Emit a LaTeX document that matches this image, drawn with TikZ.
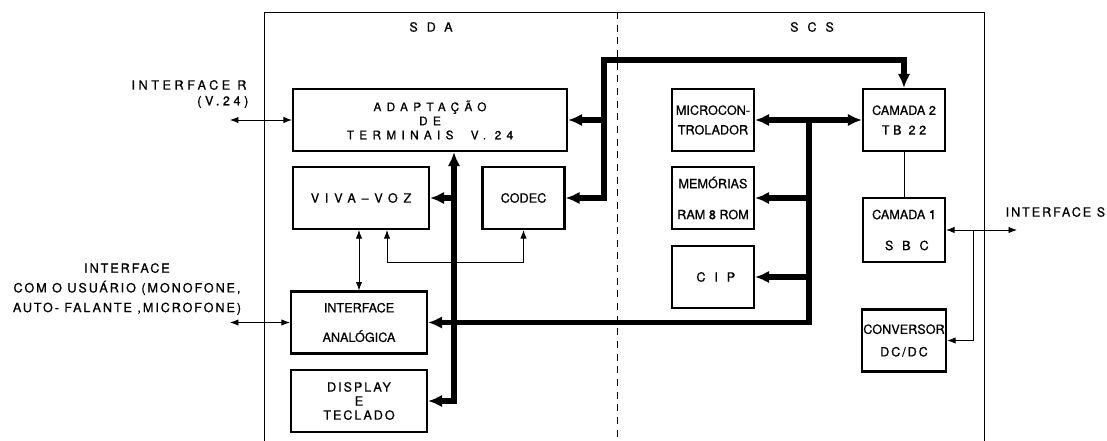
\documentclass[tikz,border=0pt]{standalone}
\usepackage{fontspec}
\setmainfont[FakeBold=0.8]{TeX Gyre Heros}
\newfontfamily\trackA[LetterSpace=15,FakeBold=0.8]{TeX Gyre Heros}
\newfontfamily\trackB[LetterSpace=28,FakeBold=0.8]{TeX Gyre Heros}
\newfontfamily\trackC[LetterSpace=45,FakeBold=0.8]{TeX Gyre Heros}
\newfontfamily\trackD[LetterSpace=70,FakeBold=0.8]{TeX Gyre Heros}
\newcommand\lettering{\fontsize{9}{11}\selectfont}
\newcommand\smalllettering{\fontsize{8.4}{10}\selectfont}
\usepackage{tikz}
\usetikzlibrary{arrows.meta,positioning}

\begin{document}
\begin{tikzpicture}[
    x=0.025cm, y=-0.025cm,
    every node/.style={font=\lettering, inner sep=1pt},
    trkA/.style={font=\trackA\lettering},
    trkB/.style={font=\trackB\lettering},
    trkC/.style={font=\trackC\lettering},
    trkD/.style={font=\trackD\lettering},
    blk/.style={draw, line width=1.5pt, minimum width=2.05cm,
        minimum height=1.55cm, align=center},
    wideblk/.style={blk, minimum width=3.4cm},
    rim/.style={line width=0.6pt},
    bus/.style={line width=4.2pt, >={Latex[length=10pt,width=9pt]}},
    sig/.style={line width=0.6pt, >={Latex[length=6pt,width=4.5pt]}}
]

\useasboundingbox (0,0) rectangle (1107,441);

% Frame and divider
\draw[rim] (264,441) |- (984,12) -- (984,441);
\draw[rim, dash pattern=on 5pt off 4pt] (617,12) -- (617,441);

% Titles
\node[trkD] (sda) at (431,27) {SDA};
\node[trkD] (scs) at (812,27) {SCS};

% SDA blocks
\node[wideblk, minimum width=6.85cm, font=\trackC\smalllettering] (adapt)
    at (430,120) {ADAPTAÇÃO\\DE\\TERMINAIS~ V. 24};
\node[wideblk, trkC] (viva) at (361,198) {VIVA\textendash VOZ};
\node[blk] (codec) at (523.5,198) {CODEC};
\node[wideblk, font=\lettering] (anal) at (359,322.5)
    {INTERFACE\\[10pt]ANALÓGICA};
\node[wideblk, trkA] (disp) at (359,401)
    {DISPLAY\\[-1pt]E\\[-1pt]TECLADO};

% SCS blocks
\node[blk] (micro) at (713,120) {MICROCON-\\[3pt]TROLADOR};
\node[blk] (mem) at (713,198) {MEMÓRIAS\\[11pt]RAM 8 ROM};
\node[blk, trkD] (cip) at (713,277) {\hspace{4pt}CIP};
\node[blk] (cam2) at (904,120) {CAMADA 2\\[3pt]{\trackB TB 22}};
\node[blk, minimum height=1.6cm] (cam1) at (904,230)
    {CAMADA 1\\[11pt]\hspace{4pt}{\trackD SBC}};
\node[blk] (conv) at (904,340.5) {CONVERSOR\\[5pt]{\trackA DC/DC}};

% Outside labels
\node[trkB] (ifrlbl) at (189,85) {INTERFACE R};
\node[trkB, anchor=east] (ifrv) at (250,102) {(V.24)};
\node[trkA, align=center] (ifulbl) at (127,289)
    {INTERFACE\\[3pt]COM O USUÁRIO (MONOFONE,\\[3pt]AUTO- FALANTE ,MICROFONE)};
\node[trkA, anchor=west] (ifslbl) at (1004,212) {INTERFACE S};

% Free ends and bends
\coordinate (rEnd) at (230,120);
\coordinate (uEnd) at (230,322.5);
\coordinate (sEnd) at (1017,230);
\coordinate (sFork) at (973,230);
\coordinate (sdaBus) at (454,0);
\coordinate (scsBus) at (809,0);
\coordinate (topBus) at (604,60);
\coordinate (vcFork) at (387,262);

% SDA bus
\draw[bus, <->] (disp.east) -| (adapt.south -| sdaBus);
\draw[bus, ->] (viva.east -| sdaBus) -- (viva.east);

% SCS bus
\draw[bus, ->] (scsBus |- micro.east) |- (anal.east);
\draw[bus, <->] (micro.east) -- (cam2.west);
\draw[bus, ->] (scsBus |- mem.east) -- (mem.east);
\draw[bus, ->] (scsBus |- cip.east) -- (cip.east);

% Link to layer 2
\draw[bus, <->] (codec.east) -| (topBus) -| (cam2.north);
\draw[bus, ->] (adapt.east -| topBus) -- (adapt.east);

% Thin links
\draw[sig, <->] (rEnd) -- (adapt.west);
\draw[sig, <->] (uEnd) -- (anal.west);
\draw[sig, <->] (viva.south -| anal.north) -- (anal.north);
\draw[sig, <->] (viva.south -| vcFork) -- (vcFork) -| (codec.south);
\draw[sig] (cam2.south) -- (cam1.north);
\draw[sig, <->] (cam1.east) -- (sEnd);
\draw[sig, ->] (sFork) |- (conv.east);

\end{tikzpicture}
\end{document}
